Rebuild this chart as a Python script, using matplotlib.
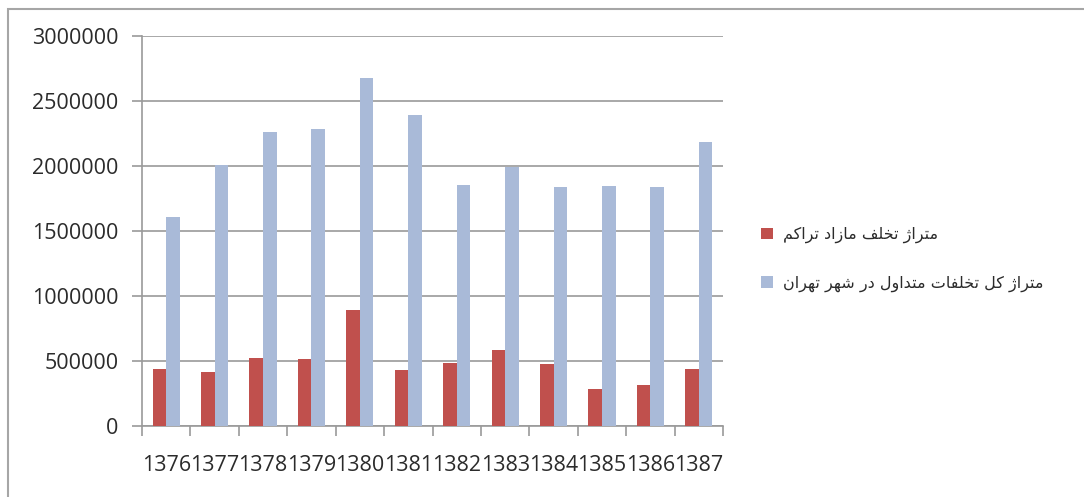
import numpy as np
import matplotlib
matplotlib.use("Agg")
import matplotlib.pyplot as plt
from matplotlib.patches import Patch, Rectangle

# ---- data ----
years = ["1376", "1377", "1378", "1379", "1380", "1381",
         "1382", "1383", "1384", "1385", "1386", "1387"]
density_violation = [437000, 414000, 519000, 514000, 890000, 432000,
                     483000, 581000, 476000, 286000, 312000, 437000]
total_violation = [1603000, 2003000, 2256000, 2286000, 2678000, 2394000,
                   1849000, 1987000, 1834000, 1841000, 1834000, 2179000]
series_labels = ["متراژ تخلف مازاد تراکم",
                 "متراژ کل تخلفات متداول در شهر تهران"]
yticks = [0, 500000, 1000000, 1500000, 2000000, 2500000, 3000000]

# ---- simple Arabic/Persian shaping (presentation forms) + RTL ordering ----
FORMS = {
    'ا': ('\uFE8D', '\uFE8E'),
    'د': ('\uFEA9', '\uFEAA'),
    'ر': ('\uFEAD', '\uFEAE'),
    'ز': ('\uFEAF', '\uFEB0'),
    'ژ': ('\uFB8A', '\uFB8B'),
    'و': ('\uFEED', '\uFEEE'),
    'ت': ('\uFE95', '\uFE96', '\uFE97', '\uFE98'),
    'خ': ('\uFEA5', '\uFEA6', '\uFEA7', '\uFEA8'),
    'ش': ('\uFEB5', '\uFEB6', '\uFEB7', '\uFEB8'),
    'ف': ('\uFED1', '\uFED2', '\uFED3', '\uFED4'),
    'ل': ('\uFEDD', '\uFEDE', '\uFEDF', '\uFEE0'),
    'م': ('\uFEE1', '\uFEE2', '\uFEE3', '\uFEE4'),
    'ن': ('\uFEE5', '\uFEE6', '\uFEE7', '\uFEE8'),
    'ه': ('\uFEE9', '\uFEEA', '\uFEEB', '\uFEEC'),
    'ک': ('\uFB8E', '\uFB8F', '\uFB90', '\uFB91'),
}


def shape_rtl(s):
    out = []
    for i, c in enumerate(s):
        f = FORMS.get(c)
        if f is None:
            out.append(c)
            continue
        prev = s[i - 1] if i > 0 else None
        nxt = s[i + 1] if i + 1 < len(s) else None
        jp = prev in FORMS and len(FORMS[prev]) == 4
        jn = len(f) == 4 and nxt in FORMS
        if jp and jn:
            g = f[3]
        elif jp:
            g = f[1]
        elif jn:
            g = f[2]
        else:
            g = f[0]
        out.append(g)
    return ''.join(reversed(out))


RED = '#C0504D'
BLUE = '#A9BAD8'
GRID = '#9A9A9A'
TXT = '#2B2B2B'

fig = plt.figure(figsize=(10.84, 4.97), dpi=100)
ax = fig.add_axes([0.131, 0.1429, 0.536, 0.7853])

x = np.arange(len(years))
w = 0.28
ax.bar(x - w / 2, density_violation, width=w, color=RED, zorder=3)
ax.bar(x + w / 2, total_violation, width=w, color=BLUE, zorder=3)

ax.set_xlim(-0.5, len(years) - 0.5)
ax.set_ylim(0, 3000000)
ax.set_yticks(yticks)
ax.set_yticklabels([str(v) for v in yticks], fontfamily='Open Sans',
                   fontsize=15.5, color=TXT)
ax.yaxis.grid(True, color=GRID, lw=1.2, zorder=0)

ax.set_xticks(np.arange(len(years) + 1) - 0.5)
ax.set_xticklabels([])
ax.set_xticks(x, minor=True)
ax.set_xticklabels(years, minor=True, fontfamily='Open Sans', fontsize=15.5,
                   color=TXT)
ax.tick_params(axis='x', which='major', length=7, color=GRID, width=1.2)
ax.tick_params(axis='x', which='minor', length=0, pad=21)
ax.tick_params(axis='y', length=7, color=GRID, width=1.2, pad=10)

for s in ['top', 'right']:
    ax.spines[s].set_visible(False)
for s in ['left', 'bottom']:
    ax.spines[s].set_color(GRID)
    ax.spines[s].set_linewidth(1.2)

handles = [Patch(facecolor=RED, edgecolor='none'),
           Patch(facecolor=BLUE, edgecolor='none')]
fig.legend(handles, [shape_rtl(t) for t in series_labels],
           loc='center left', bbox_to_anchor=(0.689, 0.478),
           frameon=False, prop={'family': 'DejaVu Sans', 'size': 11.5},
           handlelength=0.75, handleheight=0.75, handletextpad=0.6,
           labelspacing=2.0, labelcolor=TXT)

# outer chart border
fig.patches.append(Rectangle((8 / 1084, -0.5), 2.0, 0.5 + (1 - 9 / 497),
                             transform=fig.transFigure, fill=False,
                             edgecolor='#A6A6A6', lw=1.5))

fig.savefig('out.png', dpi=100)
